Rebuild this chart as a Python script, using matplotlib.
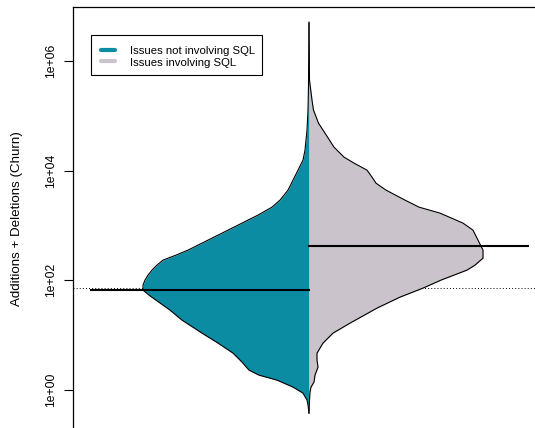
import numpy as np
import matplotlib
matplotlib.use('Agg')
import matplotlib.pyplot as plt
from matplotlib.lines import Line2D
from matplotlib.patches import Rectangle
from matplotlib.ticker import NullLocator

plt.rcParams['font.family'] = ['Liberation Sans', 'DejaVu Sans']

# ---- data ----
groups = ['Issues not involving SQL', 'Issues involving SQL']
colors = ['#0B8CA3', '#CBC3CB']

# density profile of log10(churn) for issues NOT involving SQL (left half)
nosql_log10 = [-0.419, -0.273, -0.182, -0.055, 0.055, 0.182, 0.273, 0.364, 0.510,
               0.674, 0.856, 1.038, 1.275, 1.457, 1.639, 1.730, 1.821, 1.913, 2.004,
               2.095, 2.186, 2.277, 2.368, 2.459, 2.550, 2.732, 2.914, 3.097, 3.188,
               3.333, 3.461, 3.643, 3.825, 4.007, 4.189, 4.372, 4.736, 5.100, 5.556,
               6.703]
nosql_density = [0, 1, 2, 6, 16, 32, 50, 60, 67,
                 76, 91, 107, 127, 139, 153, 160, 166, 166, 164,
                 161, 157, 152, 146, 133, 121, 101, 81, 61, 51,
                 37, 29, 21, 16, 11, 6, 4, 2, 1, 0.5,
                 0]

# density profile of log10(churn) for issues involving SQL (right half)
sql_log10 = [-0.419, -0.182, -0.036, 0.055, 0.146, 0.273, 0.419, 0.546, 0.674,
             0.856, 1.038, 1.220, 1.494, 1.694, 1.858, 2.004, 2.186, 2.277, 2.404,
             2.550, 2.732, 2.914, 3.042, 3.224, 3.333, 3.461, 3.643, 3.770, 3.880,
             4.007, 4.135, 4.244, 4.426, 4.681, 4.863, 5.100, 5.282, 5.647, 6.685]
sql_density = [0, 0.5, 1, 2, 5, 6, 9, 8, 8,
               14, 24, 41, 68, 91, 114, 132, 158, 166, 174,
               174, 169, 164, 154, 131, 110, 96, 77, 67, 63,
               58, 45, 35, 25, 16, 9.5, 4.5, 3, 0.5, 0]

median_log10 = [1.830, 2.623]
overall_log10 = 1.858

yticks = [1e0, 1e2, 1e4, 1e6]
ytick_labels = ['1e+00', '1e+02', '1e+04', '1e+06']
ylabel = 'Additions + Deletions (Churn)'

# ---- drawing ----
W, H = 535, 428
fig = plt.figure(figsize=(W / 100, H / 100), dpi=100)
ylo, yhi = -0.72, 6.973
px_per_dec = 54.9
ax_h = (yhi - ylo) * px_per_dec
top_px = 7.3
ax = fig.add_axes([73 / W, (H - top_px - ax_h) / H, 472 / W, ax_h / H])
ax.set_yscale('log')
ax.set_xlim(0.5, 1.5)
ax.set_ylim(10 ** ylo, 10 ** yhi)

scale = 1.0 / 472.0  # density units -> axis units

ax.axhline(10 ** overall_log10, color='black', lw=0.7, ls=(0, (1, 2.2)), zorder=1)

for side, (lv, dn, col) in enumerate([(nosql_log10, nosql_density, colors[0]),
                                      (sql_log10, sql_density, colors[1])]):
    y = 10 ** np.asarray(lv)
    w = np.asarray(dn) * scale
    sgn = -1 if side == 0 else 1
    ax.fill_betweenx(y, 1, 1 + sgn * w, color=col, lw=0, zorder=2)
    ax.plot(1 + sgn * w, y, color='black', lw=0.8, zorder=3,
            solid_joinstyle='round')

ax.plot([1 - 0.462, 1], [10 ** median_log10[0]] * 2, color='black', lw=1.5, zorder=4)
ax.plot([1, 1 + 0.463], [10 ** median_log10[1]] * 2, color='black', lw=1.5, zorder=4)

ax.set_xticks([])
ax.set_yticks(yticks)
ax.set_yticklabels(ytick_labels, rotation=90, va='center')
ax.yaxis.set_minor_locator(NullLocator())
ax.tick_params(axis='y', length=6.5, width=0.8, labelsize=8.7, pad=5)
for s in ax.spines.values():
    s.set_linewidth(0.9)
    s.set_color('black')

fig.text(17.5 / W, 1 - 219 / H, ylabel, rotation=90, ha='center', va='center',
         fontsize=9.6)

# legend (drawn in figure pixel positions, like R's legend box)
def fx(px):
    return px / W

def fy(py):
    return 1 - py / H

box = Rectangle((fx(91), fy(75)), fx(262) - fx(91), fy(35) - fy(75),
                transform=fig.transFigure, facecolor='white', edgecolor='black',
                lw=0.8, zorder=10)
fig.patches.append(box)
for i, (lab, col) in enumerate(zip(groups, colors)):
    row_y = 50 + 11 * i
    fig.lines.append(Line2D([fx(100.5), fx(114.5)], [fy(row_y), fy(row_y)],
                            transform=fig.transFigure, color=col, lw=3,
                            solid_capstyle='round', zorder=11))
    fig.text(fx(130), fy(row_y + 0.5), lab, ha='left', va='center_baseline',
             fontsize=8.2, zorder=11)

fig.savefig('out.png', dpi=100)
